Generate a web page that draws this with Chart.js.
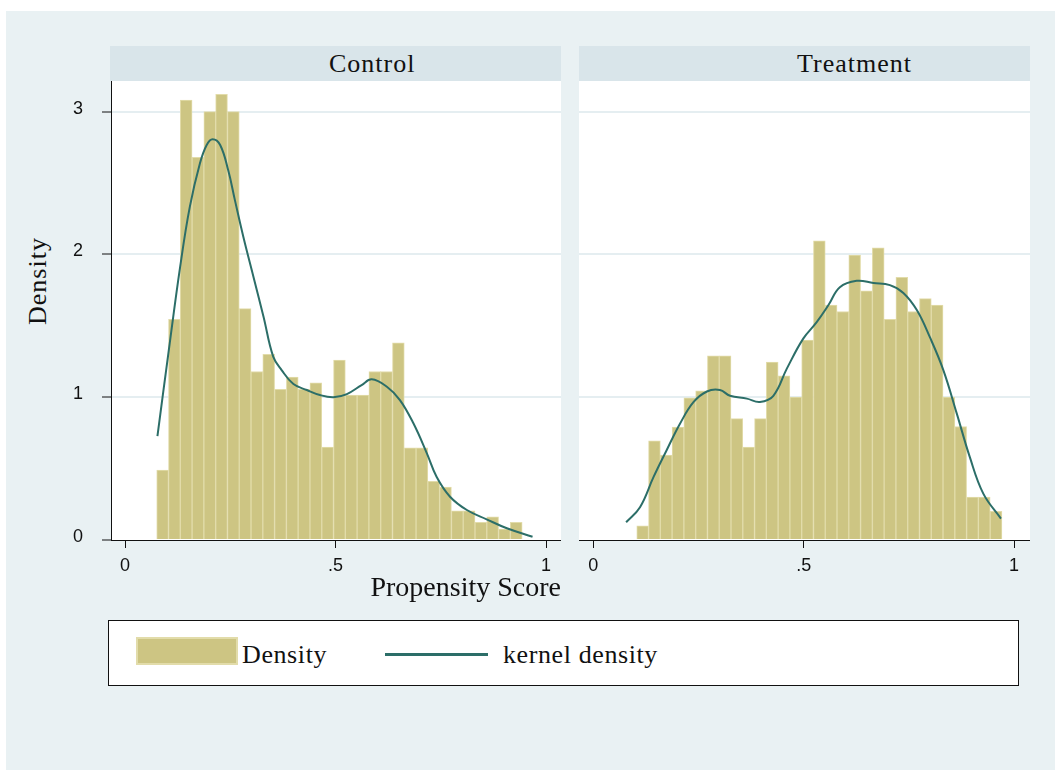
<!DOCTYPE html>
<html lang="en"><head>
<meta charset="utf-8">
<title>Propensity Score by group</title>
<script src="https://cdn.jsdelivr.net/npm/chart.js@4.4.0/dist/chart.umd.min.js"></script>
<style>
* { margin: 0; padding: 0; box-sizing: border-box; }
body {
  width: 1061px; height: 775px; background: #ffffff;
  position: relative; overflow: hidden;
  font-family: "Liberation Serif", "DejaVu Serif", serif; color: #111;
}
.bg { position: absolute; left: 6px; top: 11px; width: 1049px; height: 759px; background: #e9f1f3; }
.strip { position: absolute; top: 46px; height: 35px; background: #d9e5ea; }
.strip span { position: absolute; top: 0; line-height: 35px; font-size: 26px; letter-spacing: 1px; white-space: nowrap; }
canvas { position: absolute; top: 81px; }
#ytitle {
  position: absolute; left: 38px; top: 281px; white-space: nowrap;
  transform: translate(-50%, -50%) rotate(-90deg);
  font-size: 26px; letter-spacing: 1px;
}
.legend { position: absolute; left: 108px; top: 620px; width: 911px; height: 66px; background: #fff; border: 1px solid #111; }
.swatch { position: absolute; left: 136px; top: 637px; width: 102px; height: 28px; background: #cdc583; border: 2px solid #e2dcaa; }
.sample { position: absolute; left: 385px; top: 653px; width: 103px; height: 2.5px; background: #2c6e68; }
.ltext { position: absolute; top: 638px; line-height: 34px; font-size: 26px; letter-spacing: 0.6px; white-space: nowrap; }
</style>
</head>
<body>
<div class="bg"></div>
<div class="strip" style="left:110px; width:451px;"><span style="left:219px;">Control</span></div>
<div class="strip" style="left:579px; width:451px;"><span style="left:218px;">Treatment</span></div>
<div id="ytitle">Density</div>
<canvas id="control" width="551" height="524" style="left:10px;"></canvas>
<canvas id="treatment" width="451" height="524" style="left:579px;"></canvas>
<div class="legend"></div>
<div class="swatch"></div>
<div class="ltext" style="left:242px;">Density</div>
<div class="sample"></div>
<div class="ltext" style="left:503px;">kernel density</div>

<script>
// common histogram bins (32 bins of equal width)
const binStart = 0.0753;
const binWidth = 0.028;

// bar heights
const controlDensity = [0.49, 1.545, 3.08, 2.68, 3.0, 3.12, 3.0, 1.62, 1.18, 1.30, 1.055, 1.14, 1.055, 1.10, 0.65, 1.26,
  1.015, 1.015, 1.18, 1.18, 1.38, 0.645, 0.645, 0.41, 0.37, 0.205, 0.205, 0.124, 0.163, 0.077, 0.124, 0];
const treatmentDensity = [0, 0.10, 0.695, 0.595, 0.79, 0.996, 1.045, 1.29, 1.29, 0.85, 0.65, 0.85, 1.245, 1.15, 1.0, 1.40,
  2.095, 1.645, 1.6, 1.995, 1.745, 2.045, 1.545, 1.84, 1.6, 1.69, 1.645, 1.0, 0.795, 0.30, 0.30, 0.20];

// kernel density curves
const controlKernelX = [0.077, 0.103, 0.131, 0.154, 0.178, 0.194, 0.208, 0.226, 0.245, 0.261, 0.281, 0.305, 0.329, 0.352,
  0.372, 0.40, 0.432, 0.463, 0.495, 0.527, 0.562, 0.586, 0.622, 0.653, 0.685, 0.717, 0.74, 0.772, 0.812, 0.859, 0.907, 0.968];
const controlKernelY = [0.728, 1.307, 1.914, 2.334, 2.638, 2.766, 2.806, 2.766, 2.59, 2.38, 2.124, 1.844, 1.564, 1.284,
  1.19, 1.092, 1.05, 1.015, 1.0, 1.022, 1.085, 1.125, 1.073, 0.98, 0.817, 0.607, 0.443, 0.303, 0.21, 0.145, 0.082, 0.023];
const treatmentKernelX = [0.078, 0.111, 0.143, 0.174, 0.206, 0.238, 0.27, 0.301, 0.325, 0.365, 0.396, 0.428, 0.46, 0.499,
  0.531, 0.559, 0.586, 0.626, 0.666, 0.705, 0.737, 0.769, 0.80, 0.832, 0.864, 0.895, 0.927, 0.969];
const treatmentKernelY = [0.124, 0.23, 0.44, 0.627, 0.814, 0.965, 1.04, 1.05, 1.01, 0.99, 0.967, 1.01, 1.2, 1.41,
  1.525, 1.645, 1.77, 1.815, 1.80, 1.785, 1.73, 1.61, 1.42, 1.19, 0.885, 0.58, 0.325, 0.15];

const xTicks = [0, 0.5, 1];
const xTickLabels = ["0", ".5", "1"];
const yTicks = [0, 1, 2, 3];

const barFill = "#cdc583";
const barEdge = "#e2dcaa";
const lineColor = "#2c6e68";
const gridColor = "#e5eef1";
const tickFont = { family: "'Liberation Sans', Arial, sans-serif", size: 18 };

// paint the plot region white
const plotBg = {
  id: "plotBg",
  beforeDraw(chart) {
    const a = chart.chartArea;
    chart.ctx.save();
    chart.ctx.fillStyle = "#ffffff";
    chart.ctx.fillRect(a.left, a.top, a.right - a.left, a.bottom - a.top);
    chart.ctx.restore();
  }
};

function noPad(s) {
  s.paddingTop = 0; s.paddingBottom = 0; s.paddingLeft = 0; s.paddingRight = 0;
}

function makePanel(id, density, kx, ky, xmin, xmax, first) {
  const bars = density.map((v, i) => ({ x: binStart + (i + 0.5) * binWidth, y: v }));
  const curve = kx.map((x, i) => ({ x: x, y: ky[i] }));
  return new Chart(document.getElementById(id), {
    type: "bar",
    plugins: [plotBg],
    data: {
      datasets: [
        {
          type: "line", label: "kernel density", data: curve, order: 0,
          borderColor: lineColor, borderWidth: 2, pointRadius: 0, fill: false,
          tension: 0.4
        },
        {
          label: "Density", data: bars, order: 1,
          backgroundColor: barFill, borderColor: barEdge, borderWidth: 1,
          barPercentage: 1, categoryPercentage: 1
        }
      ]
    },
    options: {
      responsive: false,
      animation: false,
      layout: { padding: 0 },
      plugins: { legend: { display: false }, tooltip: { enabled: false } },
      scales: {
        x: {
          type: "linear", min: xmin, max: xmax, offset: false,
          afterBuildTicks: s => { s.ticks = xTicks.map(v => ({ value: v })); },
          afterFit: s => { s.height = 65; noPad(s); },
          ticks: {
            font: tickFont, color: "#111", padding: 7, maxRotation: 0, autoSkip: false,
            callback: v => xTickLabels[xTicks.indexOf(v)]
          },
          grid: { offset: false, drawOnChartArea: false, tickLength: 8, tickColor: "#111", tickWidth: 1 },
          border: { color: "#111", width: 1 },
          title: {
            display: first, text: "Propensity Score", align: "end",
            font: { family: "'Liberation Serif', serif", size: 28 }, color: "#111",
            padding: { top: 0, bottom: 0 }
          }
        },
        y: {
          min: 0, max: 3.214,
          afterBuildTicks: s => { s.ticks = yTicks.map(v => ({ value: v })); },
          afterFit: s => { s.width = first ? 101 : 0; noPad(s); },
          ticks: { display: first, font: tickFont, color: "#111", padding: 19, labelOffset: -3 },
          grid: {
            color: c => (c.tick && c.tick.value === 0 ? "rgba(0,0,0,0)" : gridColor),
            lineWidth: 2, drawTicks: first, tickLength: 9, tickColor: "#111", tickWidth: 1
          },
          border: { display: first, color: "#111", width: 1 }
        }
      }
    }
  });
}

makePanel("control", controlDensity, controlKernelX, controlKernelY, -0.0333, 1.0356, true);
makePanel("treatment", treatmentDensity, treatmentKernelX, treatmentKernelY, -0.034, 1.038, false);
</script>
</body></html>
